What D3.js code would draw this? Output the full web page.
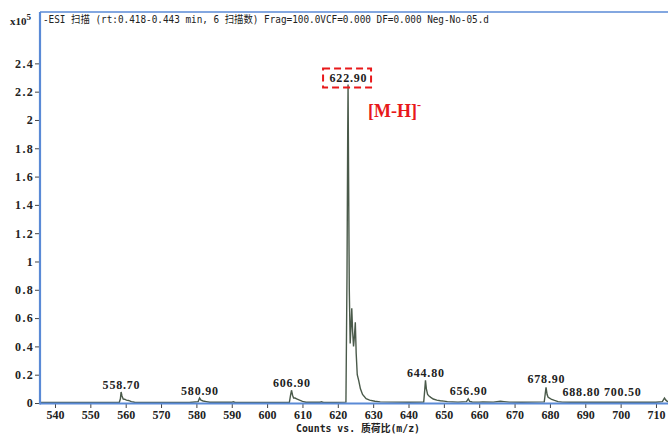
<!DOCTYPE html>
<html><head><meta charset="utf-8">
<script src="https://cdn.jsdelivr.net/npm/d3@7"></script>
<style>body{margin:0;background:#fff}</style>
</head><body>
<svg id="c" width="668" height="434"></svg>
<script>
// profile spectrum points: m/z and intensity (x10^5 counts)
const mz = [535.8,545,555,558.2,558.5,558.7,558.95,559.3,559.7,560.2,560.8,561.6,562.5,570,578,580.5,580.9,581.3,581.9,582.8,583.8,590,590.4,591,600,606.3,606.6,606.9,607.2,607.5,607.9,608.5,609.2,610,611,615,615.3,616,622.3,622.6,622.8,622.9,623.05,623.25,623.5,623.75,623.95,624.2,624.45,624.7,624.95,625.2,625.5,625.9,626.4,627,628,629,630.5,632,640,644.3,644.55,644.8,645.05,645.4,645.8,646.3,647,648,649,650,651,652.5,654,656.4,656.9,657.3,658,660,661,664,666,667,668.5,672,678.4,678.65,678.9,679.2,679.5,679.9,680.5,681.3,682.3,683.5,686,688.8,690,698,700.5,703,710,711.8,712.4,712.8,713.4];
const intensity = [0.004,0.004,0.004,0.005,0.03,0.078,0.05,0.028,0.027,0.02,0.018,0.01,0.005,0.004,0.004,0.01,0.035,0.02,0.014,0.01,0.005,0.005,0.009,0.004,0.004,0.005,0.05,0.09,0.055,0.035,0.035,0.028,0.02,0.012,0.005,0.005,0.009,0.004,0.006,0.9,1.9,2.25,1.6,0.8,0.42,0.55,0.67,0.5,0.4,0.47,0.57,0.35,0.2,0.16,0.1,0.06,0.03,0.02,0.012,0.008,0.005,0.006,0.08,0.16,0.1,0.06,0.05,0.04,0.028,0.02,0.016,0.013,0.01,0.008,0.006,0.01,0.03,0.012,0.007,0.006,0.008,0.006,0.012,0.01,0.006,0.005,0.008,0.06,0.11,0.06,0.04,0.035,0.025,0.018,0.01,0.006,0.005,0.006,0.005,0.005,0.006,0.005,0.005,0.01,0.035,0.02,0.008];

const labelTexts = ["558.70","580.90","606.90","622.90","644.80","656.90","678.90","688.80","700.50"];
const labelMz = [558.7,580.9,606.9,622.9,644.8,656.9,678.9,688.8,700.5];
const labelLevel = [0.08,0.035,0.095,2.25,0.16,0.035,0.12,0.03,0.03];

const xTicks = [540,550,560,570,580,590,600,610,620,630,640,650,660,670,680,690,700,710];
const yTicks = [0,0.2,0.4,0.6,0.8,1,1.2,1.4,1.6,1.8,2,2.2,2.4];

const titleText = "-ESI 扫描 (rt:0.418-0.443 min, 6 扫描数) Frag=100.0VCF=0.000 DF=0.000 Neg-No-05.d";
const xTitle = "Counts vs. 质荷比(m/z)";

const svg = d3.select("#c");
const L = 40, R = 668, T = 12, B = 403;
const x = d3.scaleLinear().domain([535.76, 713.4]).range([L, R]);
const y = d3.scaleLinear().domain([0, 2.763]).range([B, T]);
const blue = "#5a8ad6";
const mono = "'DejaVu Sans Mono','Noto Sans CJK SC',monospace";
const serif = "'Liberation Serif',serif";

// y axis ticks and labels
const yAxis = d3.axisLeft(y).tickValues(yTicks).tickSize(4).tickPadding(1)
  .tickFormat(d => d === 0 ? "0" : d3.format(".1~f")(d));
const gy = svg.append("g").attr("transform", `translate(${L-1},0)`).call(yAxis);
gy.select(".domain").remove();
gy.selectAll(".tick line").attr("stroke", "#444");
gy.selectAll(".tick text").attr("font-family", serif).attr("font-weight", "bold")
  .attr("font-size", 12).attr("fill", "#222").attr("letter-spacing", "1.3px");

// x axis
const xAxis = d3.axisBottom(x).tickValues(xTicks).tickSize(4).tickPadding(2).tickFormat(d3.format("d"));
const gx = svg.append("g").attr("transform", `translate(0,${B+1})`).call(xAxis);
gx.select(".domain").remove();
gx.selectAll(".tick line").attr("stroke", "#444");
gx.selectAll(".tick text").attr("font-family", serif).attr("font-weight", "bold")
  .attr("font-size", 12).attr("fill", "#222");

// spectrum
const pts = mz.map((m, i) => [m, intensity[i]]);
svg.append("path").datum(pts)
  .attr("d", d3.line().x(d => x(d[0])).y(d => y(d[1])))
  .attr("fill", "none").attr("stroke", "#4a5a4a").attr("stroke-width", 1.4);

// frame lines
svg.append("line").attr("x1", L).attr("x2", R).attr("y1", T).attr("y2", T).attr("stroke", blue).attr("stroke-width", 1.3);
svg.append("line").attr("x1", L).attr("x2", L).attr("y1", T).attr("y2", B+1.5).attr("stroke", blue).attr("stroke-width", 2.2);
svg.append("line").attr("x1", L).attr("x2", R).attr("y1", B+0.5).attr("y2", B+0.5).attr("stroke", blue).attr("stroke-width", 2.2);

// title
svg.append("text").attr("x", 43).attr("y", 23).attr("font-family", mono).attr("font-size", 10.5)
  .attr("fill", "#222").attr("textLength", 446).attr("lengthAdjust", "spacingAndGlyphs").text(titleText);
const xt = svg.append("text").attr("x", 10).attr("y", 25).attr("font-family", serif)
  .attr("font-weight", "bold").attr("font-size", 11).attr("fill", "#222");
xt.append("tspan").text("x10");
xt.append("tspan").attr("dy", -5).attr("font-size", 9).text("5");

// peak labels
const ls = 0.8;
svg.selectAll("text.pk").data(labelTexts).enter().append("text").attr("class", "pk")
  .attr("x", (d, i) => x(labelMz[i]) + ls / 2).attr("y", (d, i) => y(labelLevel[i]) - 3)
  .attr("text-anchor", "middle").attr("font-family", serif).attr("font-weight", "bold")
  .attr("font-size", 12).attr("fill", "#222").attr("letter-spacing", ls + "px").text(d => d);

// red dashed box around main peak label
const bx = x(622.9);
svg.append("rect").attr("x", bx - 25).attr("y", y(2.25) - 16).attr("width", 48).attr("height", 19)
  .attr("fill", "none").attr("stroke", "#e8191b").attr("stroke-width", 2).attr("stroke-dasharray", "7,4");

const mh = svg.append("text").attr("x", 368).attr("y", 117).attr("font-family", serif)
  .attr("font-weight", "bold").attr("font-size", 18).attr("fill", "#e8191b");
mh.append("tspan").text("[M-H]");
mh.append("tspan").attr("dy", -8).attr("font-size", 12).text("-");

// x title
svg.append("text").attr("x", 296).attr("y", 432).attr("font-family", mono).attr("font-size", 10.5)
  .attr("font-weight", "bold").attr("fill", "#222").attr("textLength", 124).attr("lengthAdjust", "spacingAndGlyphs").text(xTitle);
</script>
</body></html>
